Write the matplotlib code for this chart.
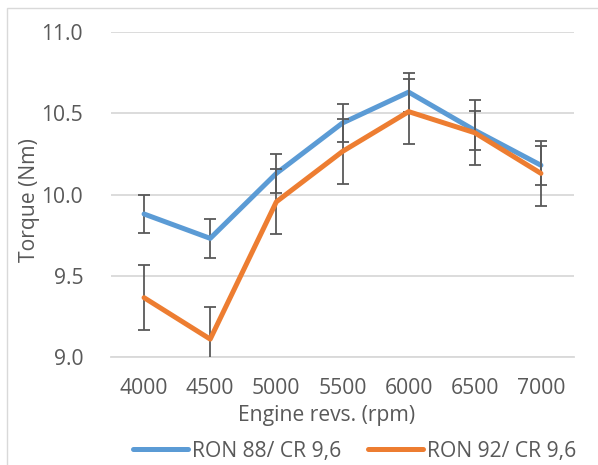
import matplotlib
matplotlib.use("Agg")
import matplotlib.pyplot as plt
from matplotlib.patches import Rectangle

rpm = ["4000", "4500", "5000", "5500", "6000", "6500", "7000"]
ron88 = [9.88, 9.73, 10.13, 10.44, 10.63, 10.395, 10.18]
ron92 = [9.365, 9.11, 9.955, 10.265, 10.51, 10.38, 10.13]
err88 = [0.12, 0.12, 0.12, 0.12, 0.12, 0.12, 0.12]
err92 = [0.2, 0.2, 0.2, 0.2, 0.2, 0.2, 0.2]
labels = ["RON 88/ CR 9,6", "RON 92/ CR 9,6"]
yticks = [9.0, 9.5, 10.0, 10.5, 11.0]

plt.rcParams['font.family'] = ['Open Sans', 'DejaVu Sans']
txt = '#595959'
grid = '#d9d9d9'
blue = '#5b9bd5'
orange = '#ed7d31'
fs = 15.2

fig = plt.figure(figsize=(5.98, 4.65), dpi=100)
fig.patches.append(Rectangle((7/598, -0.1), 1.2, 1 - 8/465 + 0.1, transform=fig.transFigure,
                             fill=False, edgecolor=grid, linewidth=1.0))
ax = fig.add_axes([111/598, 1 - 357/465, (574-111)/598, (357-32)/465])

x = list(range(len(rpm)))
ax.errorbar(x, ron88, yerr=err88, fmt='none', ecolor='#595959', elinewidth=1.3,
            capsize=4.5, capthick=1.3, zorder=3)
ax.plot(x, ron88, color=blue, linewidth=3.6, solid_capstyle='round', label=labels[0], zorder=4)
ax.errorbar(x, ron92, yerr=err92, fmt='none', ecolor='#595959', elinewidth=1.3,
            capsize=4.5, capthick=1.3, zorder=5)
ax.plot(x, ron92, color=orange, linewidth=3.6, solid_capstyle='round', label=labels[1], zorder=6)

ax.set_xlim(-0.5, len(rpm) - 0.5)
ax.set_ylim(9.0, 11.0)
ax.set_yticks(yticks)
ax.set_yticklabels([f"{v:.1f}" for v in yticks])
ax.set_xticks(x)
ax.set_xticklabels(rpm)
ax.grid(axis='y', color=grid, linewidth=1.3)
ax.set_axisbelow(True)
for s in ['top', 'right', 'left']:
    ax.spines[s].set_visible(False)
ax.spines['bottom'].set_color(grid)
ax.spines['bottom'].set_linewidth(1.3)
ax.tick_params(axis='both', length=0, labelsize=fs, colors=txt)
ax.tick_params(axis='y', pad=20)
ax.tick_params(axis='x', pad=15)

fig.text(327/598, 1 - 415/465, "Engine revs. (rpm)", ha='center', va='center', fontsize=fs, color=txt)
fig.text(29/598, 1 - 200/465, "Torque (Nm)", ha='center', va='center', rotation=90, fontsize=fs, color=txt)

leg = fig.legend(loc='center left', bbox_to_anchor=(133/598, 1 - 451/465), ncol=2, frameon=False,
                 fontsize=fs, labelcolor=txt, handlelength=2.6, handletextpad=0.2,
                 columnspacing=1.25, borderpad=0, borderaxespad=0)

fig.savefig("out.png", dpi=100)
